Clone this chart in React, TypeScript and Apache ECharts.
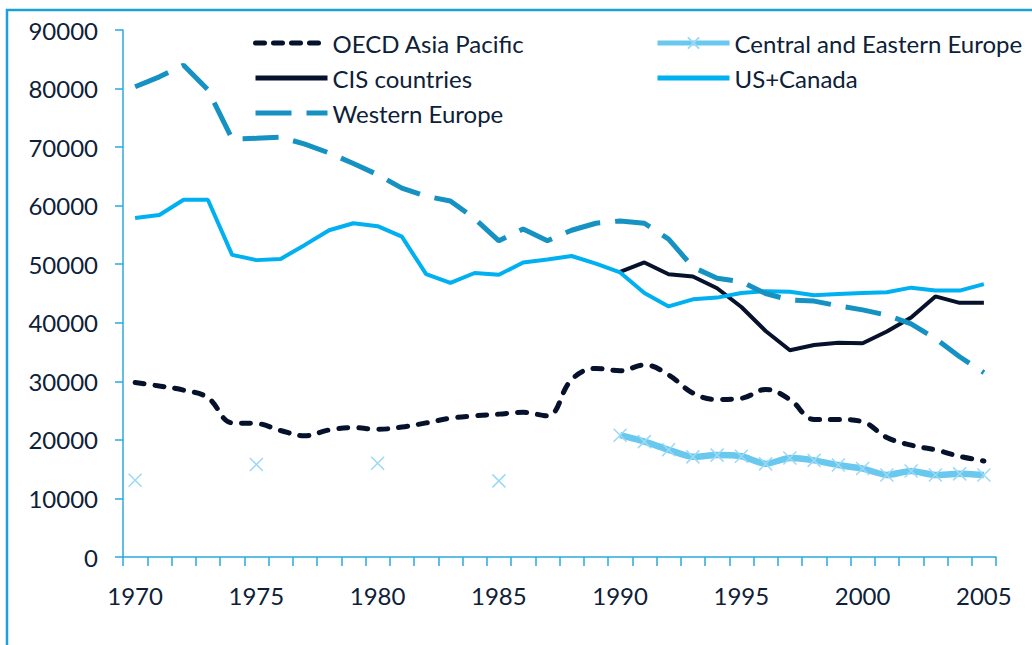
import React, { useEffect, useRef } from "react";
import * as echarts from "echarts";

const years: string[] = [];
for (let y = 1970; y <= 2005; y++) years.push(String(y));

const oecdAsiaPacific = [
  29800, 29200, 28500, 27200, 22900, 22800, 21600, 20700, 21700, 22100,
  21800, 22200, 22900, 23700, 24100, 24400, 24700, 24100, 30300, 32200,
  31800, 32800, 31100, 28000, 26900, 27100, 28600, 26900, 23500, 23500,
  23100, 20400, 19100, 18300, 17200, 16400,
];

const centralEasternEurope: (number | null)[] = [
  13100, null, null, null, null, 15800, null, null, null, null,
  16000, null, null, null, null, 13000, null, null, null, null,
  20800, 19700, 18300, 17100, 17400, 17200, 15900, 16900, 16500, 15700,
  15100, 14000, 14700, 14000, 14200, 14000,
];

const cisCountries: (number | null)[] = [
  null, null, null, null, null, null, null, null, null, null,
  null, null, null, null, null, null, null, null, null, null,
  48700, 50300, 48300, 47900, 45900, 42700, 38600, 35300, 36200, 36600,
  36500, 38500, 40900, 44500, 43400, 43400,
];

const usCanada = [
  57900, 58400, 61000, 61000, 51600, 50700, 50900, 53300, 55800, 57000,
  56500, 54700, 48300, 46800, 48500, 48200, 50300, 50800, 51400, 50100,
  48600, 45100, 42800, 44000, 44300, 45100, 45400, 45300, 44700, 44900,
  45100, 45200, 46000, 45500, 45500, 46600,
];

const westernEurope = [
  80300, 82000, 84000, 79800, 71400, 71500, 71700, 70500, 69000, 67200,
  65300, 63000, 61600, 60800, 57800, 54000, 56000, 54000, 55800, 57000,
  57400, 57000, 54300, 49500, 47600, 47000, 45000, 43900, 43700, 42900,
  42200, 41300, 39800, 37300, 34200, 31500,
];

const yTicks = { min: 0, max: 90000, interval: 10000 };

const TEXT = "#0d2138";
const AXIS = "#2aa9df";
const FONT = "Lato, 'Noto Sans', sans-serif";
const XMARK = "path://M0,0L10,10M10,0L0,10";

const hideSym = { opacity: 0 };

export default function App() {
  const ref = useRef<HTMLDivElement>(null);
  useEffect(() => {
    if (!ref.current) return;
    const chart = echarts.init(ref.current, undefined, { renderer: "svg" });
    const legendText = { color: TEXT, fontSize: 24, fontFamily: FONT, lineHeight: 24 };
    chart.setOption({
      animation: false,
      backgroundColor: "#ffffff",
      grid: { left: 123, right: 36, top: 30, bottom: 88 },
      graphic: [
        {
          type: "rect",
          shape: { x: 7, y: 10, width: 1060, height: 680 },
          style: { fill: "none", stroke: "#1aa2d8", lineWidth: 2.5 },
          silent: true,
        },
      ],
      legend: [
        {
          left: 253,
          top: 31,
          orient: "vertical",
          padding: 0,
          itemWidth: 72,
          itemHeight: 14,
          itemGap: 11,
          textStyle: legendText,
          data: [
            { name: "OECD Asia Pacific", itemStyle: hideSym, lineStyle: { width: 5, cap: "round", type: [9, 9] } },
            { name: "CIS countries", itemStyle: hideSym, lineStyle: { width: 5 } },
            { name: "Western Europe", itemStyle: hideSym, lineStyle: { width: 5 } },
          ],
        },
        {
          left: 655,
          top: 31,
          orient: "vertical",
          padding: 0,
          itemWidth: 72,
          itemHeight: 14,
          itemGap: 11,
          textStyle: legendText,
          data: [
            { name: "Central and Eastern Europe", lineStyle: { width: 5 } },
            { name: "US+Canada", itemStyle: hideSym, lineStyle: { width: 5 } },
          ],
        },
      ],
      xAxis: {
        type: "category",
        data: years,
        boundaryGap: true,
        axisLine: { lineStyle: { color: AXIS, width: 1.5 } },
        axisTick: { show: true, interval: 0, length: 9, lineStyle: { color: AXIS, width: 1.5 } },
        axisLabel: { interval: 4, margin: 26, color: TEXT, fontSize: 24, fontFamily: FONT },
        splitLine: { show: false },
      },
      yAxis: {
        type: "value",
        min: yTicks.min,
        max: yTicks.max,
        interval: yTicks.interval,
        axisLine: { show: true, lineStyle: { color: AXIS, width: 1.5 } },
        axisTick: { show: true, length: 8, lineStyle: { color: AXIS, width: 1.5 } },
        axisLabel: {
          margin: 25,
          color: TEXT,
          fontSize: 24,
          fontFamily: FONT,
          formatter: (v: number) => String(v),
        },
        splitLine: { show: false },
      },
      series: [
        {
          name: "OECD Asia Pacific",
          type: "line",
          data: oecdAsiaPacific,
          symbol: "none",
          smooth: 0.4,
          lineStyle: { color: "#06112b", width: 5, type: [9, 11], cap: "round" },
          itemStyle: { color: "#06112b" },
        },
        {
          name: "Central and Eastern Europe",
          type: "line",
          data: centralEasternEurope,
          connectNulls: false,
          symbol: XMARK,
          symbolSize: 13,
          showSymbol: true,
          showAllSymbol: true,
          smooth: 0.2,
          lineStyle: { color: "#68c8ee", width: 6.5 },
          itemStyle: { color: "#9bd9f4", borderColor: "#9bd9f4", borderWidth: 1.5 },
        },
        {
          name: "CIS countries",
          type: "line",
          data: cisCountries,
          symbol: "none",
          lineStyle: { color: "#06112b", width: 4 },
          itemStyle: { color: "#06112b" },
        },
        {
          name: "US+Canada",
          type: "line",
          data: usCanada,
          symbol: "none",
          lineStyle: { color: "#00b0f0", width: 4 },
          itemStyle: { color: "#00b0f0" },
        },
        {
          name: "Western Europe",
          type: "line",
          data: westernEurope,
          symbol: "none",
          lineStyle: { color: "#1591c2", width: 5, type: [36, 15] },
          itemStyle: { color: "#1591c2" },
        },
      ],
    });
    return () => chart.dispose();
  }, []);
  return (
    <div style={{ position: "fixed", left: 0, top: 0, width: 1032, height: 645, background: "#fff" }}>
      <div ref={ref} style={{ width: 1032, height: 645 }} />
    </div>
  );
}
